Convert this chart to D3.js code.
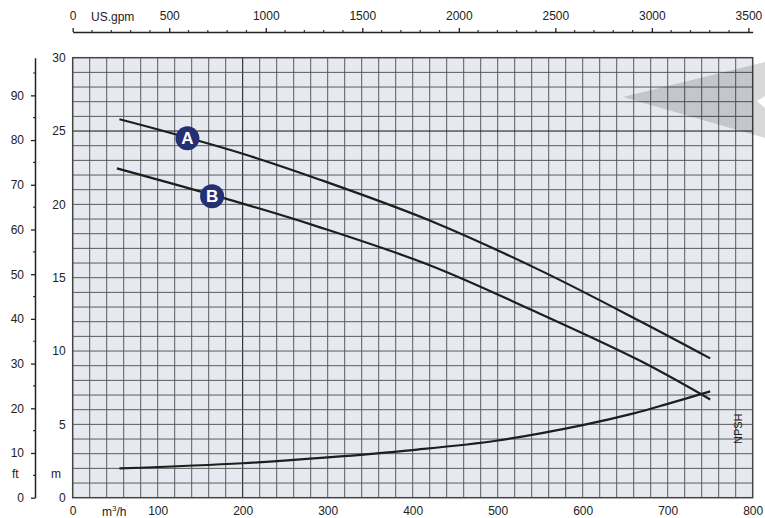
<!DOCTYPE html>
<html>
<head>
<meta charset="utf-8">
<script src="https://cdn.jsdelivr.net/npm/d3@7"></script>
<style>
  body { margin: 0; background: #fff; }
  svg { display: block; }
  text { font-family: "Liberation Sans", Arial, Helvetica, sans-serif; fill: #222; }
</style>
</head>
<body>
<svg id="chart" width="765" height="518"></svg>
<script>
// ---- Data ----
const curveA = [[55,25.8],[110,24.95],[200,23.45],[290,21.7],[420,18.9],[550,15.5],[667,12.05],[750,9.5]];
const curveB = [[52,22.45],[200,20.05],[290,18.45],[420,15.85],[540,12.8],[667,9.35],[750,6.7]];
const curveNPSH = [[55,2.0],[200,2.35],[300,2.75],[400,3.25],[500,3.9],[600,4.95],[660,5.75],[700,6.4],[750,7.25]];
const flowTicks = [0,100,200,300,400,500,600,700,800];
const headTicks = [0,5,10,15,20,25,30];
const ftTicks = [0,10,20,30,40,50,60,70,80,90];
const gpmTicks = [0,500,1000,1500,2000,2500,3000,3500];
const curveLabels = [{name:"A", q:135, h:24.5},{name:"B", q:164, h:20.55}];

const M3H_TO_GPM = 4.402868;
const M_TO_FT = 3.28084;

const svg = d3.select("#chart");
const L = 72.7, R = 752.7, T = 57.7, B = 497.7;

const x = d3.scaleLinear().domain([0, 800]).range([L, R]);
const y = d3.scaleLinear().domain([0, 30]).range([B, T]);
const xg = d3.scaleLinear().domain([0, 800 * M3H_TO_GPM]).range([L, R]);
const yft = d3.scaleLinear().domain([0, 30 * M_TO_FT]).range([B, T]);

// plot background
svg.append("rect").attr("x", L).attr("y", T).attr("width", R - L).attr("height", B - T)
  .attr("fill", "#e7e9f1");

// grid
const grid = svg.append("g");
grid.selectAll("line.v").data(d3.range(20, 800, 20)).join("line")
  .attr("x1", d => x(d)).attr("x2", d => x(d)).attr("y1", T).attr("y2", B)
  .attr("stroke", d => d === 200 ? "#111" : "#5a5a5a").attr("stroke-width", 1);
grid.selectAll("line.h").data(d3.range(1, 30, 1)).join("line")
  .attr("x1", L).attr("x2", R).attr("y1", d => y(d)).attr("y2", d => y(d))
  .attr("stroke", d => d === 25 ? "#111" : "#5a5a5a").attr("stroke-width", 1);

svg.append("rect").attr("x", L).attr("y", T).attr("width", R - L).attr("height", B - T)
  .attr("fill", "none").attr("stroke", "#444").attr("stroke-width", 1.5);

// curves
const line = d3.line().x(d => x(d[0])).y(d => y(d[1])).curve(d3.curveCatmullRom.alpha(0.5));
[curveA, curveB, curveNPSH].forEach(c => {
  svg.append("path").datum(c).attr("d", line)
    .attr("fill", "none").attr("stroke", "#1e1e1e").attr("stroke-width", 2.2);
});

// curve labels
const lab = svg.selectAll("g.lab").data(curveLabels).join("g")
  .attr("transform", d => `translate(${x(d.q)},${y(d.h)})`);
lab.append("circle").attr("r", 12).attr("fill", "#243071");
lab.append("text").text(d => d.name).attr("text-anchor", "middle").attr("dy", "0.36em")
  .style("fill", "#fff").style("font-weight", "bold").style("font-size", "17px");

// top gpm axis
const topAxis = svg.append("g").attr("transform", "translate(0,32)")
  .call(d3.axisTop(xg).tickValues(gpmTicks).tickSize(4).tickSizeOuter(0).tickPadding(8)
    .tickFormat(d3.format("d")));
topAxis.select(".domain").attr("stroke", "#222").attr("stroke-width", 1.3);
topAxis.selectAll(".tick line").attr("stroke", "#222").attr("stroke-width", 1.3);
topAxis.selectAll("text").style("font-size", "12px").attr("fill", "#222");
svg.append("g").selectAll("line").data(d3.range(100, 3600, 100).filter(v => v % 500 !== 0)).join("line")
  .attr("x1", d => xg(d)).attr("x2", d => xg(d)).attr("y1", 32).attr("y2", 30)
  .attr("stroke", "#333").attr("stroke-width", 1.2);
svg.append("text").attr("x", 91).attr("y", 21).text("US.gpm").style("font-size", "12px");

// left ft axis
const ftAxis = svg.append("g").attr("transform", "translate(35,0)")
  .call(d3.axisLeft(yft).tickValues(ftTicks).tickSize(4).tickSizeOuter(0).tickPadding(7));
ftAxis.select(".domain").attr("stroke", "#222").attr("stroke-width", 1.5);
ftAxis.selectAll(".tick line").attr("stroke", "#222").attr("stroke-width", 1.3);
ftAxis.selectAll("text").style("font-size", "12px").attr("fill", "#222");
svg.append("g").selectAll("line").data(d3.range(5, 100, 10)).join("line")
  .attr("x1", 33).attr("x2", 35).attr("y1", d => yft(d)).attr("y2", d => yft(d))
  .attr("stroke", "#333").attr("stroke-width", 1.2);

// m axis labels
const mAxis = svg.append("g").attr("transform", `translate(${L},0)`)
  .call(d3.axisLeft(y).tickValues(headTicks).tickSize(0).tickPadding(7));
mAxis.select(".domain").remove();
mAxis.selectAll("text").style("font-size", "12px").attr("fill", "#222");

// bottom axis labels
const bAxis = svg.append("g").attr("transform", `translate(0,${B})`)
  .call(d3.axisBottom(x).tickValues(flowTicks).tickSize(0).tickPadding(9));
bAxis.select(".domain").remove();
bAxis.selectAll("text").style("font-size", "12px").attr("fill", "#222");

// unit labels
const unit = svg.append("text").attr("x", 102).attr("y", 518 - 2).style("font-size", "12px");
unit.append("tspan").text("m");
unit.append("tspan").text("3").attr("dy", -5).style("font-size", "8px");
unit.append("tspan").text("/h").attr("dy", 5);
svg.append("text").attr("x", 12).attr("y", 478).text("ft").style("font-size", "12px");
svg.append("text").attr("x", 51).attr("y", 478).text("m").style("font-size", "12px");
svg.append("text").attr("transform", `translate(${x(787)},${y(4.7)}) rotate(-90)`)
  .attr("text-anchor", "middle").text("NPSH").style("font-size", "11px");

// decorative grey wedge at top right
svg.append("polygon")
  .attr("points", "623,97 765,62 765,96 757,101 765,108 765,138")
  .attr("fill", "#000").attr("fill-opacity", 0.15);
</script>
</body>
</html>
